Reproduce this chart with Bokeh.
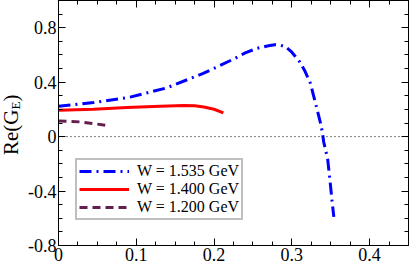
from bokeh.plotting import figure
from bokeh.models import (FixedTicker, LinearAxis, Range1d, Span, Div,
                          Legend, LegendItem)
from bokeh.layouts import row
from bokeh.embed import file_html
from bokeh.resources import INLINE

# ---- data ----
x_1535 = [0.0, 0.045, 0.092, 0.139, 0.186, 0.227, 0.240, 0.255, 0.270, 0.278,
          0.285, 0.292, 0.300, 0.310, 0.317, 0.324, 0.328, 0.332, 0.336, 0.339,
          0.341, 0.346, 0.349, 0.352, 0.354]
y_1535 = [0.223, 0.250, 0.290, 0.358, 0.464, 0.575, 0.615, 0.648, 0.668, 0.675,
          0.672, 0.660, 0.620, 0.550, 0.480, 0.390, 0.300, 0.210, 0.120, 0.040,
          -0.040, -0.162, -0.320, -0.490, -0.590]

x_1400 = [0.0, 0.045, 0.088, 0.131, 0.161, 0.175, 0.187, 0.200, 0.212]
y_1400 = [0.194, 0.201, 0.214, 0.223, 0.228, 0.226, 0.218, 0.201, 0.174]

x_1200 = [0.0, 0.028, 0.045, 0.066]
y_1200 = [0.115, 0.108, 0.096, 0.078]

labels = ["W = 1.535 GeV", "W = 1.400 GeV", "W = 1.200 GeV"]

x_ticks = [0.0, 0.1, 0.2, 0.3, 0.4]
x_minor = [0.025, 0.05, 0.075, 0.125, 0.15, 0.175, 0.225, 0.25, 0.275,
           0.325, 0.35, 0.375, 0.425, 0.45]
x_tick_labels = {0.0: "0", 0.1: "0.1", 0.2: "0.2", 0.3: "0.3", 0.4: "0.4"}
y_ticks = [-0.8, -0.4, 0.0, 0.4, 0.8]
y_minor = [-0.7, -0.6, -0.5, -0.3, -0.2, -0.1, 0.1, 0.2, 0.3, 0.5, 0.6, 0.7, 0.9, 1.0]
y_tick_labels = {-0.8: "-0.8", -0.4: "-0.4", 0.0: "0", 0.4: "0.4", 0.8: "0.8"}

FONT = "Liberation Serif"
LABEL_W = 22

p = figure(width=409 - LABEL_W, height=263, output_backend="svg",
           toolbar_location=None, margin=(0, 0, 0, 0),
           x_range=Range1d(0, 0.45), y_range=Range1d(-0.8, 1.0),
           min_border_left=58 - LABEL_W, min_border_right=1, min_border_top=0,
           min_border_bottom=18)
p.xgrid.visible = False
p.ygrid.visible = False
p.outline_line_color = "black"
p.outline_line_width = 1
p.background_fill_color = "white"


def style_axis(ax, show_labels, overrides):
    ax.major_tick_in = 7
    ax.major_tick_out = 0
    ax.minor_tick_in = 4
    ax.minor_tick_out = 0
    ax.axis_line_color = "black"
    ax.major_tick_line_color = "black"
    ax.minor_tick_line_color = "black"
    ax.major_label_overrides = overrides
    if show_labels:
        ax.major_label_text_font = FONT
        ax.major_label_text_font_size = "18px"
        ax.major_label_text_color = "black"
        ax.major_label_standoff = 2
    else:
        ax.major_label_text_font_size = "1px"
        ax.major_label_standoff = 0


p.xaxis.ticker = FixedTicker(ticks=x_ticks, minor_ticks=x_minor)
p.yaxis.ticker = FixedTicker(ticks=y_ticks, minor_ticks=y_minor)
style_axis(p.xaxis[0], True, x_tick_labels)
style_axis(p.yaxis[0], True, y_tick_labels)

top = LinearAxis(ticker=FixedTicker(ticks=x_ticks, minor_ticks=x_minor))
right = LinearAxis(ticker=FixedTicker(ticks=y_ticks, minor_ticks=y_minor))
style_axis(top, False, {t: "" for t in x_ticks})
style_axis(right, False, {t: "" for t in y_ticks})
p.add_layout(top, "above")
p.add_layout(right, "right")

p.add_layout(Span(location=0, dimension="width", line_color="black",
                  line_width=1, line_dash="1 3"))

r1 = p.line(x_1535, y_1535, line_color="#0000ff", line_width=3,
            line_dash="12 5 2 5")
r2 = p.line(x_1400, y_1400, line_color="#ff0000", line_width=3)
r3 = p.line(x_1200, y_1200, line_color="#641e50", line_width=3,
            line_dash="8 5")

legend = Legend(items=[LegendItem(label=labels[0], renderers=[r1]),
                       LegendItem(label=labels[1], renderers=[r2]),
                       LegendItem(label=labels[2], renderers=[r3])],
                location=(17, 25))
legend.label_text_font = FONT
legend.label_text_font_size = "16px"
legend.label_text_color = "black"
legend.border_line_color = "#7f7f7f"
legend.border_line_width = 2
legend.padding = 2
legend.margin = 0
legend.spacing = 0
legend.label_standoff = 8
legend.glyph_width = 50
legend.glyph_height = 8
legend.label_height = 8
legend.background_fill_alpha = 1
p.add_layout(legend, "center")

# y axis label: Re(G_E), as real rotated text
ylabel = Div(text="Re(G<sub style='font-size:13px'>E</sub>)",
             width=LABEL_W, height=250, margin=(0, 0, 0, 0),
             styles={"writing-mode": "vertical-rl",
                     "transform": "rotate(180deg)",
                     "font-family": FONT, "font-size": "21px",
                     "color": "black", "text-align": "center",
                     "line-height": "22px", "padding": "0px",
                     "margin": "0px"})

layout = row(ylabel, p, spacing=0, margin=(0, 0, 0, 0))

open("out.html", "w").write(file_html(layout, INLINE))
